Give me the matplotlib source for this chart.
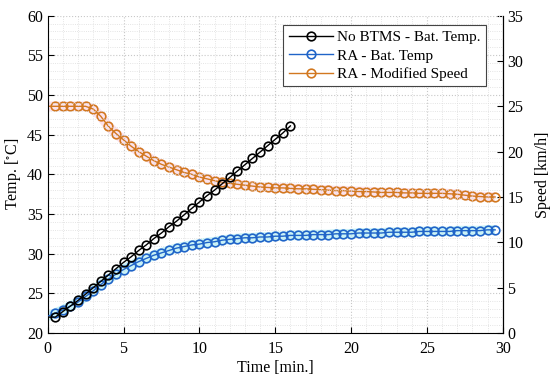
import numpy as np
import matplotlib
matplotlib.use('Agg')
import matplotlib.pyplot as plt

plt.rcParams['font.family'] = ['Liberation Serif', 'DejaVu Serif']
plt.rcParams['mathtext.fontset'] = 'stix'

# sample times [min]
time = np.arange(0.0, 30.0, 0.5)

# No BTMS battery temperature [degC], 0 .. 16 min
no_btms_temp = [22.0, 22.0, 22.7, 23.4, 24.1, 24.9, 25.7, 26.5, 27.3, 28.1,
                28.9, 29.6, 30.4, 31.1, 31.9, 32.6, 33.4, 34.1, 34.9, 35.7,
                36.5, 37.3, 38.0, 38.8, 39.6, 40.4, 41.2, 42.0, 42.8, 43.6,
                44.4, 45.2, 46.1]

# RA battery temperature [degC]
ra_temp = [22.1, 22.5, 22.9, 23.4, 23.9, 24.6, 25.3, 26.1, 26.8, 27.4,
           28.0, 28.5, 29.0, 29.4, 29.8, 30.1, 30.4, 30.7, 30.9, 31.1,
           31.2, 31.4, 31.5, 31.7, 31.8, 31.9, 32.0, 32.0, 32.1, 32.1,
           32.2, 32.2, 32.3, 32.3, 32.3, 32.4, 32.4, 32.4, 32.5, 32.5,
           32.5, 32.6, 32.6, 32.6, 32.6, 32.7, 32.7, 32.7, 32.7, 32.8,
           32.8, 32.8, 32.8, 32.8, 32.9, 32.9, 32.9, 32.9, 33.0, 33.0]

# RA modified speed [km/h]
ra_speed = [25.0, 25.0, 25.0, 25.0, 25.0, 25.0, 24.7, 23.9, 22.8, 22.0,
            21.3, 20.6, 20.0, 19.5, 19.0, 18.6, 18.3, 18.0, 17.7, 17.5,
            17.2, 17.0, 16.8, 16.6, 16.5, 16.4, 16.3, 16.2, 16.1, 16.05,
            16.0, 16.0, 15.95, 15.9, 15.9, 15.85, 15.8, 15.75, 15.7, 15.7,
            15.65, 15.6, 15.6, 15.55, 15.5, 15.5, 15.5, 15.45, 15.45, 15.4,
            15.4, 15.4, 15.4, 15.35, 15.3, 15.2, 15.1, 15.05, 15.0, 15.0]

c_black = '#000000'
c_blue = '#2064c8'
c_orange = '#d27820'

fig = plt.figure(figsize=(5.5, 3.81), dpi=100)
ax = fig.add_axes([0.0867, 0.126, 0.8273, 0.833])
ax2 = ax.twinx()

ms = 6.2
mew = 1.2

t_black = time[:len(no_btms_temp)]

# faint glow bands behind the curves
ax.plot(time, ra_temp, color='#b5eef4', lw=7, alpha=0.7, zorder=1, solid_capstyle='butt')
ax2.plot(time, ra_speed, color='#fcd6e4', lw=7, alpha=0.7, zorder=1, solid_capstyle='butt')

l1, = ax.plot(t_black, no_btms_temp, color=c_black, lw=1.0, marker='o', ms=ms,
              mfc='none', mew=mew, markevery=slice(1, None), zorder=4,
              label='No BTMS - Bat. Temp.')
l2, = ax.plot(time, ra_temp, color=c_blue, lw=1.0, marker='o', ms=ms,
              mfc='none', mew=mew, markevery=slice(1, None), zorder=3,
              label='RA - Bat. Temp')
l3, = ax2.plot(time, ra_speed, color=c_orange, lw=1.0, marker='o', ms=ms,
               mfc='none', mew=mew, markevery=slice(1, None), zorder=3,
               label='RA - Modified Speed')

ax.set_xlim(0, 30)
ax.set_ylim(20, 60)
ax2.set_ylim(0, 35)
ax.set_xticks(np.arange(0, 31, 5))
ax.set_yticks(np.arange(20, 61, 5))
ax2.set_yticks(np.arange(0, 36, 5))
ax.set_xticks(np.arange(0, 31, 1), minor=True)
ax.set_yticks(np.arange(20, 61, 1), minor=True)

ax.grid(True, which='major', color='#c8c8c8', ls=':', lw=0.8)
ax.grid(True, which='minor', color='#dcdcdc', ls=':', lw=0.6)
ax.set_axisbelow(True)

for a in (ax, ax2):
    a.spines['top'].set_visible(False)
    a.tick_params(which='major', direction='in', length=4, labelsize=11.5)
    a.tick_params(which='minor', length=0)
ax.tick_params(axis='x', pad=6)
ax2.spines['left'].set_visible(False)
ax2.spines['bottom'].set_visible(False)

ax.set_xlabel('Time [min.]', fontsize=11.5, labelpad=2)
ax.set_ylabel(r'Temp. [$^{\circ}$C]', fontsize=11.5, labelpad=3)
ax2.set_ylabel('Speed [km/h]', fontsize=11.5, labelpad=8)

ax.patch.set_visible(False)
ax2.set_zorder(ax.get_zorder() - 1)
ax2.patch.set_visible(True)
ax2.patch.set_facecolor('white')

leg = ax.legend(handles=[l1, l2, l3], loc='upper right', bbox_to_anchor=(0.974, 0.984),
                fontsize=11, frameon=True, fancybox=False, edgecolor='#444444',
                framealpha=1, handlelength=2.9, handletextpad=0.3,
                borderpad=0.35, labelspacing=0.3, borderaxespad=0.3)
leg.get_frame().set_linewidth(0.8)

fig.savefig('out.png', dpi=100)
